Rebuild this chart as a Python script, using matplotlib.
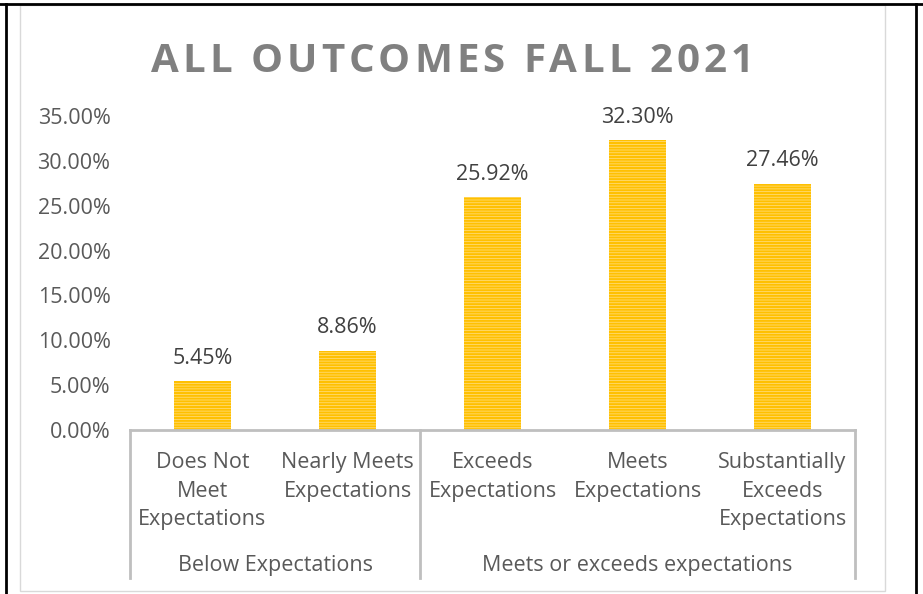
import matplotlib.pyplot as plt
from matplotlib.patches import Rectangle
from matplotlib.lines import Line2D
import matplotlib.transforms as mtransforms

categories = ['Does Not\nMeet\nExpectations', 'Nearly Meets\nExpectations',
              'Exceeds\nExpectations', 'Meets\nExpectations',
              'Substantially\nExceeds\nExpectations']
values = [5.45, 8.86, 25.92, 32.30, 27.46]
groups = ['Below Expectations', 'Meets or exceeds expectations']
group_spans = [(0, 1), (2, 4)]
yticks = [0, 5, 10, 15, 20, 25, 30, 35]
title = 'ALL OUTCOMES FALL 2021'

plt.rcParams['font.family'] = ['Open Sans', 'DejaVu Sans']
plt.rcParams['hatch.linewidth'] = 1.5
plt.rcParams['hatch.color'] = '#FFC000'

text_color = '#595959'
line_color = '#BFBFBF'
fs = 15.5

fig = plt.figure(figsize=(9.23, 5.94), dpi=100)
W, H = 923, 594

# outer frame lines and chart border
fig.add_artist(Rectangle((20 / W, 1 - 591 / H), 865 / W, 586 / H, transform=fig.transFigure,
                         fill=False, edgecolor='#D9D9D9', lw=1))
fig.add_artist(Line2D([0, 1], [1 - 4 / H, 1 - 4 / H], transform=fig.transFigure, color='black', lw=2))
fig.add_artist(Line2D([6 / W, 6 / W], [0, 1 - 4 / H], transform=fig.transFigure, color='black', lw=2))
fig.add_artist(Line2D([916 / W, 916 / W], [0, 1 - 4 / H], transform=fig.transFigure, color='black', lw=2))

ax = fig.add_axes([130 / W, 1 - 430 / H, 725 / W, 314 / H])
x = list(range(len(values)))
ax.bar(x, values, width=0.39, color='#FFE08A', edgecolor='#FFC000', hatch='------', linewidth=0)

for xi, v in zip(x, values):
    ax.annotate(f'{v:.2f}%', (xi, v), xytext=(0, 16.5), textcoords='offset points',
                ha='center', va='center', fontsize=fs, color='#404040')

ax.set_xlim(-0.5, len(values) - 0.5)
ax.set_ylim(0, 35)
ax.set_yticks(yticks)
ax.set_yticklabels([f'{t:.2f}%' for t in yticks])
ax.tick_params(axis='y', length=0, pad=14, labelsize=fs, labelcolor=text_color)
ax.set_xticks([])
for s in ['top', 'right', 'left']:
    ax.spines[s].set_visible(False)
ax.spines['bottom'].set_color(line_color)
ax.spines['bottom'].set_linewidth(2)

trans = mtransforms.blended_transform_factory(ax.transData, ax.transAxes)
bottom = -148 / 314
for sx in [-0.5, 1.5, 4.5]:
    ax.add_line(Line2D([sx, sx], [0, bottom], transform=trans, color=line_color, lw=2, clip_on=False))

for xi, lab in zip(x, categories):
    ax.text(xi, -22 / 314, lab, transform=trans, ha='center', va='top', fontsize=fs,
            color=text_color, linespacing=1.48)

for g, (a, b) in zip(groups, group_spans):
    ax.text((a + b) / 2, -(566 - 430) / 314, g, transform=trans, ha='center', va='center',
            fontsize=fs, color=text_color)

# title with letter spacing: place characters one by one
renderer = fig.canvas.get_renderer()
title_kw = dict(fontsize=29, fontweight='bold', color='#808080', va='center', ha='left')
tracking = 4.0  # extra pixels between letters
chars = [fig.text(0, 1 - 62 / H, c, **title_kw) for c in title]
widths = []
for c, t in zip(title, chars):
    if c == ' ':
        ref = fig.text(0, 0, 'a a', **title_kw)
        ref2 = fig.text(0, 0, 'aa', **title_kw)
        widths.append(ref.get_window_extent(renderer).width - ref2.get_window_extent(renderer).width)
        ref.remove()
        ref2.remove()
    else:
        widths.append(t.get_window_extent(renderer).width)
total = sum(widths) + tracking * (len(title) - 1)
pos = 452 - total / 2
for t, w in zip(chars, widths):
    t.set_x(pos / W)
    pos += w + tracking

fig.savefig('out.png', dpi=100)
